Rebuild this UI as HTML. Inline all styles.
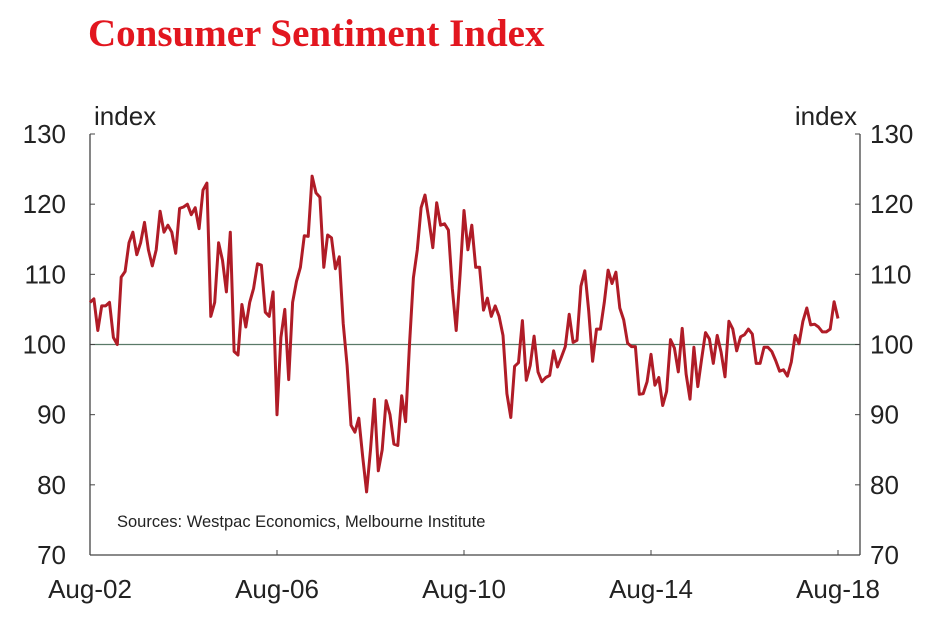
<!DOCTYPE html>
<html><head><meta charset="utf-8"><style>
body{margin:0;background:#fff;width:945px;height:641px;overflow:hidden}
svg{display:block}
</style></head><body>
<svg id="chart" width="945" height="641" xmlns="http://www.w3.org/2000/svg">
<text x="88" y="46" font-family="Liberation Serif, serif" font-weight="bold" font-size="39" fill="#e2161f">Consumer Sentiment Index</text>
<text x="94" y="125" font-family="Liberation Sans, sans-serif" font-size="26" fill="#222">index</text>
<text x="857" y="125" text-anchor="end" font-family="Liberation Sans, sans-serif" font-size="26" fill="#222">index</text>
<g id="axes"></g>
<text x="117" y="527" font-family="Liberation Sans, sans-serif" font-size="16.5" fill="#222">Sources: Westpac Economics, Melbourne Institute</text>
</svg>
<script>
const startLabel = "Aug-02";
const values = [
106,106.5,102,105.5,105.5,
106,101,100,109.6,110.4,114.5,116,112.8,114.5,117.4,113.5,111.2,
113.5,119,116,117,116,113,119.4,119.6,120,118.5,119.5,116.5,
122,123,104,106,114.5,112,107.5,116,99,98.5,105.7,102.5,
106,108,111.5,111.3,104.6,104,107.5,90,101,105,95,106,
109,111,115.5,115.4,124,121.6,121,111,115.6,115.2,110.8,112.5,
103,97,88.5,87.5,89.5,84,79,85,92.2,82,85,92,
90,85.8,85.6,92.7,89,100,109.5,113.5,119.5,121.3,117.8,113.8,
120.2,117,117.2,116.3,108,102,110,119.1,113.5,117,111,111,
104.9,106.6,104,105.5,104,101.3,93,89.6,96.9,97.4,103.4,94.9,
97,101.2,96.1,94.7,95.3,95.6,99.1,96.8,98.2,99.7,104.3,100.3,
100.6,108.3,110.5,104.8,97.6,102.2,102.2,106,110.6,108.7,110.3,105.2,
103.5,100.2,99.7,99.7,92.9,93,94.7,98.6,94.2,95.3,91.3,93.3,
100.7,99.5,96.1,102.3,95.8,92.2,99.6,94,97.9,101.7,100.8,97.3,
101.3,98.9,95.4,103.3,102.2,99.1,101.1,101.4,102.2,101.5,97.3,97.3,
99.6,99.6,99.0,97.7,96.2,96.4,95.5,97.5,101.3,100.1,103.3,105.2,
102.8,102.9,102.5,101.8,101.8,102.2,106.1,103.7];
const yTicks = [70,80,90,100,110,120,130];
const xTickLabels = ["Aug-02","Aug-06","Aug-10","Aug-14","Aug-18"];
const xTickMonths = [0,48,96,144,192];

const L=90,R=860,T=134,B=555,yMin=70,yMax=130,nMonths=192;
const xS=m=>L+(m/nMonths)*(838-L);
const yS=v=>B-(v-yMin)/(yMax-yMin)*(B-T);
const ns="http://www.w3.org/2000/svg";
const g=document.getElementById('axes');
function mk(t,a){const e=document.createElementNS(ns,t);for(const k in a)e.setAttribute(k,a[k]);g.appendChild(e);return e;}

let e=mk('line',{x1:L,y1:yS(100),x2:R,y2:yS(100),stroke:'#5a7a68','stroke-width':1.3});


e=mk('line',{x1:L,y1:T,x2:L,y2:B,stroke:'#444','stroke-width':1.3});


e=mk('line',{x1:R,y1:T,x2:R,y2:B,stroke:'#444','stroke-width':1.3});


e=mk('line',{x1:L,y1:B,x2:R,y2:B,stroke:'#444','stroke-width':1.3});



yTicks.forEach(v=>{
  const y=yS(v);
  let t=mk('line',{x1:L,y1:y,x2:L+5,y2:y,stroke:'#444'});
  
  
  t=mk('line',{x1:R-5,y1:y,x2:R,y2:y,stroke:'#444'});
  
  
  let tx=mk('text',{x:66,y:y+9,'text-anchor':'end','font-family':'Liberation Sans, sans-serif','font-size':26,fill:'#222'});
  tx.textContent=v;
  
  
  tx=mk('text',{x:870,y:y+9,'font-family':'Liberation Sans, sans-serif','font-size':26,fill:'#222'});
  tx.textContent=v;
  
  
});
xTickMonths.forEach((m,i)=>{
  const x=xS(m);
  let t=mk('line',{x1:x,y1:B,x2:x,y2:B-5,stroke:'#444'});
  
  
  let tx=mk('text',{x:x,y:598,'text-anchor':'middle','font-family':'Liberation Sans, sans-serif','font-size':26,fill:'#222'});
  tx.textContent=xTickLabels[i];
  
  
});
const pts=values.map((v,i)=>xS(i).toFixed(1)+','+yS(v).toFixed(1)).join(' ');
const line=mk('polyline',{points:pts,fill:'none',stroke:'#b01c27','stroke-width':3,'stroke-linejoin':'round'});


</script>
</body></html>
